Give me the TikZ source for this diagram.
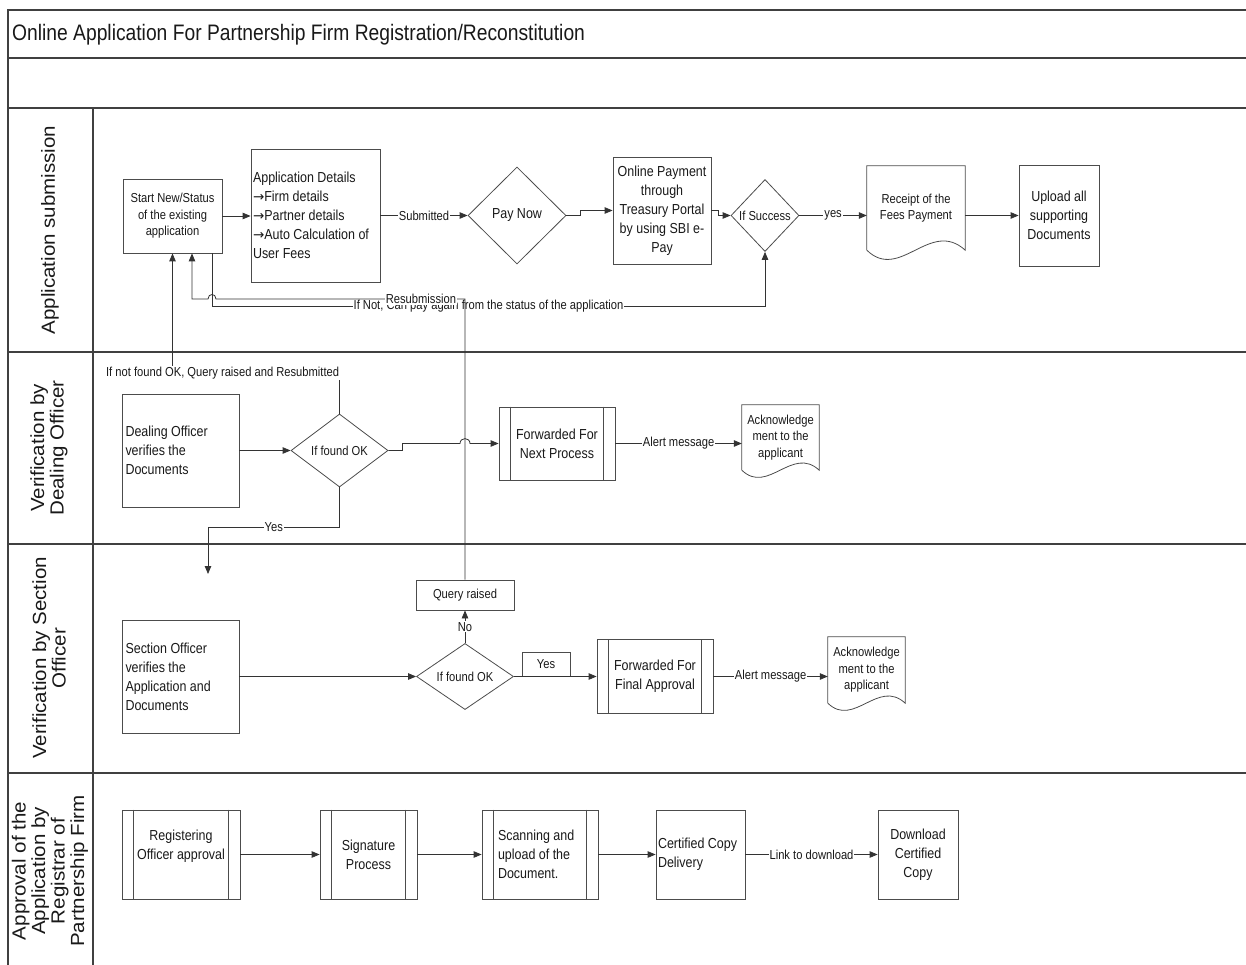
\documentclass[tikz,border=0pt]{standalone}
\usepackage{fontspec}
\setmainfont[FakeStretch=0.86]{Liberation Sans}
\newfontfamily\lanefamily[FakeStretch=1.08]{Liberation Sans}
\newfontfamily\arrowfamily{DejaVu Sans}
\usetikzlibrary{arrows.meta,shapes.geometric,calc}
\newcommand\boxfont{\fontsize{14.5}{19}\selectfont}
\newcommand\tagfont{\fontsize{13}{16.5}\selectfont}
\newcommand\headfont{\fontsize{22.4}{26}\selectfont}
\newcommand\lanefont{\lanefamily\fontsize{19}{19.5}\selectfont}
\newcommand\ra{{\arrowfamily\fontsize{13.5}{19}\selectfont →}}

\begin{document}
\begin{tikzpicture}[x=1pt,y=-1pt,
  every node/.style={text=black!90},
  frame/.style={draw=black!75, line width=1.1pt},
  shapeline/.style={draw=black!70, line width=0.8pt},
  conn/.style={draw=black!80, line width=0.8pt},
  arr/.style={conn, -{Triangle[length=8pt,width=6.5pt]}},
  lbl/.style={fill=white, inner sep=1pt, font=\tagfont},
  box/.style={shapeline, inner sep=2pt, align=center, font=\boxfont},
  smallbox/.style={shapeline, inner sep=2pt, align=center, font=\tagfont},
  decision/.style={shapeline, shape=diamond, inner sep=0pt, align=center},
  docbox/.style={inner sep=2pt, align=center, font=\tagfont},
  lanelbl/.style={rotate=90, align=center, font=\lanefont}
]
\useasboundingbox (0,0) rectangle (1246,965);

% ---------- swimlane frame ----------
\draw[frame] (8,965) -- (8,10) -- (1246,10);
\draw[frame] (8,58) -- (1246,58);
\draw[frame] (8,108) -- (1246,108);
\draw[frame] (8,352) -- (1246,352);
\draw[frame] (8,544) -- (1246,544);
\draw[frame] (8,773) -- (1246,773);
\draw[frame] (93,108) -- (93,965);

\node[anchor=west, font=\headfont, inner sep=0pt] (title) at (12,35)
  {Online Application For Partnership Firm Registration/Reconstitution};

\node[lanelbl] (lane1) at (50,230) {Application submission};
\node[lanelbl] (lane2) at (49,448) {Verification by\\Dealing Officer};
\node[lanelbl] (lane3) at (49,658) {Verification by Section\\Officer};
\node[lanelbl] (lane4) at (50,871) {Approval of the\\Application by\\Registrar of\\Partnership Firm};

% ---------- lane 1: application submission ----------
\node[smallbox, minimum width=99, minimum height=74] (start) at (172.5,216)
  {Start New/Status\\of the existing\\application};
\node[box, align=flush left, text width=125, minimum width=129, minimum height=133] (appd) at (315.5,215.5)
  {Application Details\\\ra Firm details\\\ra Partner details\\\ra Auto Calculation of\\User Fees};
\node[decision, minimum width=98, minimum height=97, font=\boxfont] (pay) at (517,215.5) {Pay Now};
\node[box, minimum width=98, minimum height=107] (online) at (662,210.5)
  {Online Payment\\through\\Treasury Portal\\by using SBI e-\\Pay};
\node[decision, minimum width=68, minimum height=72, font=\tagfont] (succ) at (765,215.5) {If Success};
\node[docbox, minimum width=98, minimum height=84] (receipt) at (916,208) {Receipt of the\\Fees Payment};
\draw[shapeline] (receipt.south west) -- (receipt.north west) -- (receipt.north east) -- (receipt.south east)
  .. controls +(-35,-32) and +(33,32) .. (receipt.south west);
\node[box, minimum width=80, minimum height=101] (upload) at (1059,215.5)
  {Upload all\\supporting\\Documents};

% ---------- lane 2: dealing officer ----------
\node[box, align=flush left, text width=110, minimum width=117, minimum height=113] (dealing) at (180.5,450.5)
  {Dealing Officer\\verifies the\\Documents};
\node[decision, minimum width=97, minimum height=73, font=\tagfont] (ok1) at (339.5,450.5) {If found OK};
\node[box, minimum width=116, minimum height=73] (fwd1) at (557,443.5) {Forwarded For\\Next Process};
\node[docbox, minimum width=77, minimum height=65] (ack1) at (780.5,437.5) {Acknowledge\\ment to the\\applicant};
\draw[shapeline] (ack1.south west) -- (ack1.north west) -- (ack1.north east) -- (ack1.south east)
  .. controls +(-27,-25) and +(26,25) .. (ack1.south west);

% ---------- lane 3: section officer ----------
\node[box, align=flush left, text width=110, minimum width=117, minimum height=113] (section) at (180.5,676.5)
  {Section Officer\\verifies the\\Application and\\Documents};
\node[decision, minimum width=97, minimum height=48, font=\tagfont] (ok2) at (465,676.5) {If found OK};
\node[smallbox, minimum width=98, minimum height=30] (qr) at (465,595) {Query raised};
\node[smallbox, minimum width=48, minimum height=24] (yesbox) at (546,664.5) {Yes};
\node[box, minimum width=116, minimum height=74] (fwd2) at (655,676.5) {Forwarded For\\Final Approval};
\node[docbox, minimum width=77, minimum height=66] (ack2) at (866.5,670) {Acknowledge\\ment to the\\applicant};
\draw[shapeline] (ack2.south west) -- (ack2.north west) -- (ack2.north east) -- (ack2.south east)
  .. controls +(-27,-25) and +(26,25) .. (ack2.south west);

% ---------- lane 4: approval ----------
\node[box, minimum width=118, minimum height=89] (reg) at (181,854.5) {Registering\\Officer approval\\\mbox{}};
\node[box, minimum width=97, minimum height=89] (sig) at (368.5,854.5) {Signature\\Process};
\node[box, align=flush left, text width=84, minimum width=116, minimum height=89] (scan) at (540,854.5)
  {Scanning and\\upload of the\\Document.};
\node[box, align=flush left, text width=85, minimum width=89, minimum height=89] (cert) at (700.5,854.5)
  {Certified Copy\\Delivery};
\node[box, minimum width=80, minimum height=89] (dl) at (918,854.5) {Download\\Certified\\Copy};

% side bars of the predefined-process boxes
\foreach \n in {fwd1,fwd2,reg,sig,scan}
  \draw[shapeline] ([xshift=12pt]\n.north west) -- ([xshift=12pt]\n.south west)
                   ([xshift=-12pt]\n.north east) -- ([xshift=-12pt]\n.south east);

% ---------- connectors, lane 1 ----------
\draw[arr] (start.east) -- (start.east -| appd.west);
\draw[arr] (appd) -- node[lbl]{Submitted} (pay);
\draw[arr] (pay.east) -- ++(14,0) |- (online.west);
\draw[arr] (online.east) -- ++(7,0) |- (succ.west);
\draw[arr] (succ.east) -- node[lbl]{yes} (succ.east -| receipt.west);
\draw[arr] (receipt.east |- upload.west) -- (upload.west);

% payment retry loop
\draw[arr] ([xshift=39.5pt]start.south) -- ++(0,52.5)
  -| node[lbl, pos=0.25]{If Not, Can pay again from the status of the application} (succ.south);

% resubmission after a query
\draw[arr] (qr.north) -- (qr.north |- 0,299) -- node[lbl, pos=0.177]{Resubmission} (216,299)
  .. controls (216,293) and (208,293) .. (208,299) -| ([xshift=19.5pt]start.south);

% ---------- connectors, lane 2 ----------
\draw[arr] (dealing) -- (ok1);
\draw[arr] (ok1.north) -- (ok1.north |- 0,373)
  -- node[lbl, pos=0.7]{If not found OK, Query raised and Resubmitted} (start.south |- 0,373) -- (start.south);
\draw[arr] (ok1.east) -- ++(14,0) -- ++(0,-7) -- (460,443.5)
  .. controls (460,437) and (470,437) .. (470,443.5) -- (fwd1.west);
\coordinate (yesend) at (208,574);
\draw[arr] (ok1.south) -- (ok1.south |- 0,527.5) -| node[lbl, pos=0.25]{Yes} (yesend);
\draw[arr] (fwd1.east) -- node[lbl]{Alert message} (fwd1.east -| ack1.west);

% ---------- connectors, lane 3 ----------
\draw[arr] (section) -- (ok2);
\draw[arr] (ok2) -- node[lbl]{No} (qr);
\draw[arr] (ok2) -- (fwd2);
\draw[arr] (fwd2.east) -- node[lbl]{Alert message} (fwd2.east -| ack2.west);

% ---------- connectors, lane 4 ----------
\draw[arr] (reg) -- (sig);
\draw[arr] (sig) -- (scan);
\draw[arr] (scan) -- (cert);
\draw[arr] (cert) -- node[lbl]{Link to download} (dl);
\end{tikzpicture}
\end{document}
